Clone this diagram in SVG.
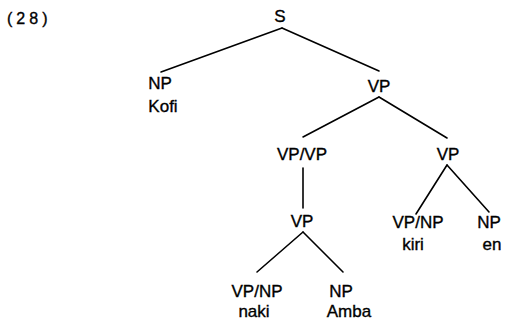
<svg xmlns="http://www.w3.org/2000/svg" width="507" height="321" viewBox="0 0 507 321">
<style>
text{font-family:"Liberation Sans",Arial,sans-serif;font-size:17px;fill:#000;stroke:#000;stroke-width:0.35;text-anchor:middle}
.e line{stroke:#000;stroke-width:1.6;stroke-linecap:round}
</style>
<rect width="507" height="321" fill="#fff"/>
<text x="7" y="24" style="text-anchor:start;letter-spacing:4px;font-size:16px">(28)</text>
<g id="connectors" class="e">
<line x1="282" y1="28" x2="161" y2="72"/>
<line x1="282" y1="28" x2="379" y2="71"/>
<line x1="379" y1="97" x2="303" y2="137"/>
<line x1="379" y1="97" x2="447" y2="138"/>
<line x1="303" y1="168" x2="303" y2="208"/>
<line x1="447" y1="165" x2="416" y2="214"/>
<line x1="447" y1="165" x2="489" y2="212"/>
<line x1="303" y1="232" x2="257" y2="272"/>
<line x1="303" y1="232" x2="343" y2="272"/>
</g>
<g id="n-S"><text x="280" y="22">S</text></g>
<g id="n-NP1"><text x="160" y="89">NP</text><text x="163" y="112">Kofi</text></g>
<g id="n-VP1"><text x="379" y="92">VP</text></g>
<g id="n-VPVP"><text x="302" y="160">VP/VP</text></g>
<g id="n-VP2"><text x="448" y="160">VP</text></g>
<g id="n-VP3"><text x="302" y="227">VP</text></g>
<g id="n-VPNP1"><text x="418" y="228">VP/NP</text><text x="413" y="250">kiri</text></g>
<g id="n-NP2"><text x="489" y="228">NP</text><text x="492" y="250">en</text></g>
<g id="n-VPNP2"><text x="257" y="297">VP/NP</text><text x="254" y="317">naki</text></g>
<g id="n-NP3"><text x="341" y="297">NP</text><text x="349" y="317">Amba</text></g>
</svg>
